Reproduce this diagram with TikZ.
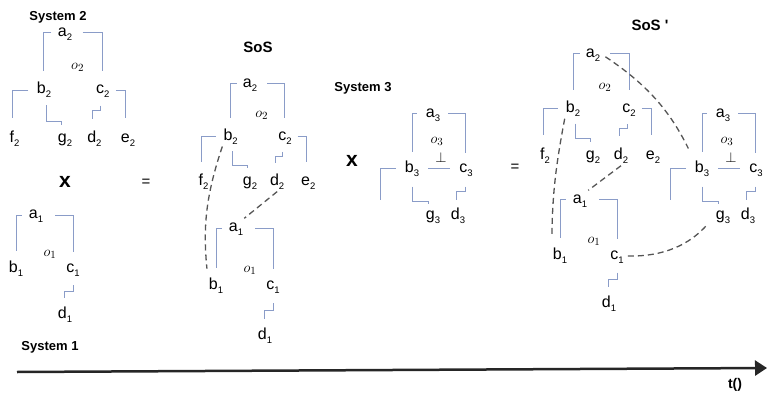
\documentclass[tikz,border=0pt]{standalone}
\usepackage{fontspec}
\setmainfont{Liberation Sans}
\usetikzlibrary{arrows.meta}

\definecolor{brkblue}{RGB}{138,156,200}
\definecolor{dashgray}{RGB}{85,85,85}

\tikzset{
  vtx/.style={inner sep=1pt,text height=12pt,text depth=5pt,font=\fontsize{16}{16}\selectfont},
  opname/.style={inner sep=1pt,font=\fontsize{15}{15}\selectfont},
  brk/.style={draw=brkblue,line width=1pt},
  link/.style={draw=dashgray,line width=1.3pt,dash pattern=on 6pt off 4pt},
  sysname/.style={font=\bfseries\fontsize{13}{13}\selectfont},
  sosname/.style={font=\bfseries\fontsize{15}{15}\selectfont},
  bigop/.style={font=\bfseries\fontsize{21}{21}\selectfont},
  eqop/.style={font=\fontsize{15}{15}\selectfont},
  axis/.style={->,draw=black!85,line width=2.5pt},
}

\newcommand{\vname}[2]{#1\raisebox{-4pt}{\fontsize{9.5}{9.5}\selectfont #2}}

% system 1: a1 over b1 and c1, d1 under c1
\newcommand{\sysone}{%
  \node[vtx] (a1) at (0,0) {\vname{a}{1}};
  \node[vtx] (b1) at (-20,56) {\vname{b}{1}};
  \node[vtx] (c1) at (37,56) {\vname{c}{1}};
  \node[vtx] (d1) at (29,104) {\vname{d}{1}};
  \node[opname] (o1) at (14,41) {$o_1$};
  \draw[brk] ([xshift=-6pt]a1.west) -| ([yshift=8pt]b1.north);
  \draw[brk] ([xshift=11pt]a1.east) -| ([yshift=7pt]c1.north);
  \draw[brk] ([yshift=-7pt]c1.south) -- ++(0,7) -| ([xshift=-1pt,yshift=7pt]d1.north);
}

% system 2: a2 over b2 and c2, then f2 g2 d2 e2
\newcommand{\systwo}{%
  \node[vtx] (a2) at (0,0) {\vname{a}{2}};
  \node[vtx] (b2) at (-20,55) {\vname{b}{2}};
  \node[vtx] (c2) at (36,55) {\vname{c}{2}};
  \node[vtx] (f2) at (-48,102) {\vname{f}{2}};
  \node[vtx] (g2) at (0,102) {\vname{g}{2}};
  \node[vtx] (d2) at (28,102) {\vname{d}{2}};
  \node[vtx] (e2) at (60,102) {\vname{e}{2}};
  \node[opname] (o2) at (12,33) {$o_2$};
  \draw[brk] ([xshift=-5pt]a2.west) -| ([yshift=9.5pt]b2.north);
  \draw[brk] ([xshift=9pt]a2.east) -| ([yshift=9.5pt]c2.north);
  \draw[brk] ([xshift=-7pt]b2.west) -| ([xshift=-2pt,yshift=11pt]f2.north);
  \draw[brk] ([xshift=2pt,yshift=-5pt]b2.south) |- ([xshift=-3pt,yshift=7.5pt]g2.north)
    -- ([xshift=-3pt,yshift=4.5pt]g2.north);
  \draw[brk] ([xshift=-2pt,yshift=-5.5pt]c2.south) -- ++(0,4.5) -| ([xshift=-2pt,yshift=10pt]d2.north);
  \draw[brk] ([xshift=5pt]c2.east) -| ([xshift=-2pt,yshift=11pt]e2.north);
}

% system 3: a3 over b3 and c3, g3 d3 below
\newcommand{\systhree}{%
  \node[vtx] (a3) at (0,0) {\vname{a}{3}};
  \node[vtx] (b3) at (-21,55) {\vname{b}{3}};
  \node[vtx] (c3) at (33,55) {\vname{c}{3}};
  \node[vtx] (g3) at (0,102) {\vname{g}{3}};
  \node[vtx] (d3) at (25,102) {\vname{d}{3}};
  \coordinate (x3) at (-53,86);
  \node[opname] (o3) at (4,27) {$o_3$};
  \node[opname] (p3) at (8,44) {$\perp$};
  \draw[brk] ([xshift=-8pt]a3.west) -| ([yshift=7.5pt]b3.north);
  \draw[brk] ([xshift=7pt]a3.east) -| ([xshift=-1pt,yshift=6.5pt]c3.north);
  \draw[brk] ([xshift=8pt]b3.east) -- ([xshift=-8pt]c3.west);
  \draw[brk] ([xshift=-8pt]b3.west) -| (x3);
  \draw[brk] ([yshift=-8pt]b3.south) |- ([xshift=-5pt,yshift=4.5pt]g3.north)
    -- ([xshift=-5pt,yshift=2pt]g3.north);
  \draw[brk] ([xshift=-1pt,yshift=-8pt]c3.south) -- ++(0,5) -| ([xshift=-2pt,yshift=6.5pt]d3.north);
}

\begin{document}
\begin{tikzpicture}[x=1pt,y=-1pt,>={Triangle[length=12pt,width=15pt]}]
\useasboundingbox (0,0) rectangle (783,403);

% left column
\node[sysname] (n2) at (58,17) {System 2};
\begin{scope}[shift={(65,33)},xscale=1.05,yscale=1.04,name prefix=s2-]
  \systwo
\end{scope}
\node[bigop] (x1) at (65,182) {x};
\begin{scope}[shift={(36,215)},yscale=0.96,name prefix=s1-]
  \sysone
\end{scope}
\node[sysname] (n1) at (50,347) {System 1};
\node[eqop] (eq1) at (146,183) {=};

% SoS
\node[sosname] (nsos) at (258,47) {SoS};
\begin{scope}[shift={(250,84)},xscale=0.97,yscale=0.96,name prefix=sa2-]
  \systwo
\end{scope}
\begin{scope}[shift={(236,228)},yscale=1.04,name prefix=sa1-]
  \sysone
\end{scope}
\draw[link,shorten >=8pt] (sa2-b2.south west) to[bend right=12] (sa1-b1.north west);
\draw[link] (sa2-d2.south) -- (sa1-a1.north east);

% system 3
\node[bigop] (x2) at (352,161) {x};
\node[sysname] (n3) at (363,88) {System 3};
\begin{scope}[shift={(433,114)},name prefix=s3-]
  \systhree
\end{scope}
\node[eqop] (eq2) at (515,168) {=};

% SoS '
\node[sosname] (nsosp) at (650,25) {SoS \textquotesingle};
\begin{scope}[shift={(593,54)},name prefix=sb2-]
  \systwo
\end{scope}
\begin{scope}[shift={(580,200)},name prefix=sb1-]
  \sysone
\end{scope}
\begin{scope}[shift={(723,114)},name prefix=sb3-]
  \systhree
\end{scope}
\draw[link,shorten <=5pt,shorten >=12pt] (sb2-a2.east) to[bend left=15] (sb3-b3.north west);
\draw[link,shorten >=9pt] (sb2-b2.south west) to[bend right=5] (sb1-b1.north west);
\draw[link] (sb2-d2.south) -- (sb1-a1.north east);
\draw[link,shorten <=3pt,shorten >=11pt] (sb1-c1.east) to[bend right=25] (sb3-g3.west);

% time axis
\coordinate (t0) at (17,372);
\coordinate (t1) at (767,368);
\draw[axis] (t0) -- (t1);
\node[font=\bfseries\fontsize{14}{14}\selectfont] (tl) at (735,385) {t()};
\end{tikzpicture}
\end{document}
